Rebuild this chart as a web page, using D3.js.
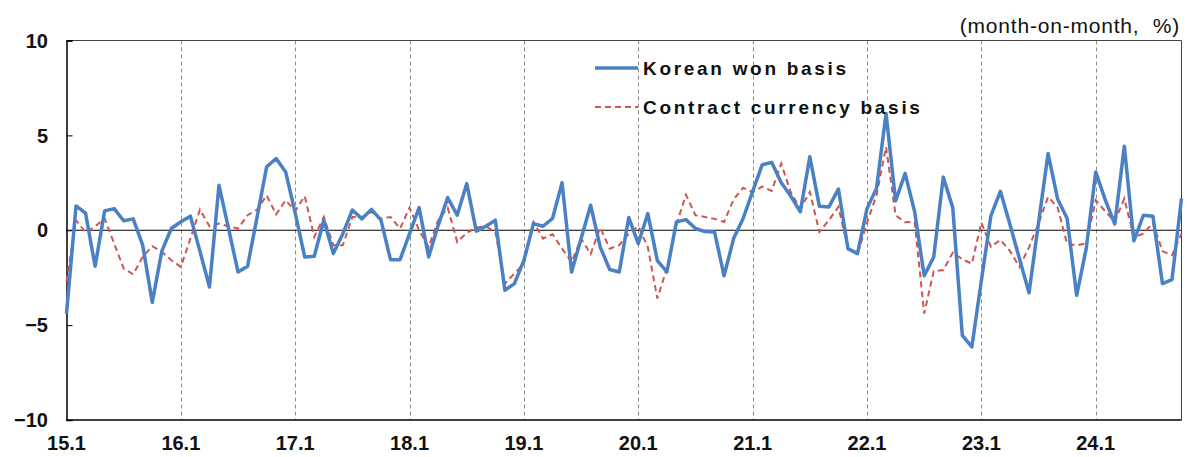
<!DOCTYPE html>
<head>
    <meta charset="utf-8">
    <script src="https://d3js.org/d3.v7.min.js"></script>
    <style>
        body { margin:0; background:#fff; }
        svg text { font-family: "Liberation Sans", Arial, sans-serif; }
    </style>
</head>
<body>
    <svg id="chart" width="1187" height="457"></svg>

    <script>
        // x tick labels (every January)
        var tickLabels = ["15.1","16.1","17.1","18.1","19.1","20.1","21.1","22.1","23.1","24.1"];
        var yTicks = [-10, -5, 0, 5, 10];

        // monthly change, 2015.1 - 2024.10
        var wonBasis = [
            -4.4, 1.28, 0.9, -1.9, 1.02, 1.14, 0.5, 0.6, -0.8, -3.8, -1.1, 0.09,
            0.45, 0.74, -1.1, -2.99, 2.37, 0.1, -2.2, -1.9, 0.7, 3.34, 3.78, 3.07,
            0.9, -1.41, -1.37, 0.53, -1.23, -0.18, 1.07, 0.6, 1.1, 0.53, -1.55, -1.55,
            -0.18, 1.19, -1.41, 0.26, 1.72, 0.79, 2.46, -0.05, 0.21, 0.53, -3.16, -2.81,
            -1.58, 0.35, 0.21, 0.62, 2.5, -2.2, -0.44, 1.32, -0.88, -2.07, -2.2, 0.67,
            -0.7, 0.88, -1.6, -2.2, 0.44, 0.56, 0.09, -0.07, -0.09, -2.4, -0.44, 0.62,
            2.05, 3.45, 3.58, 2.5, 1.8, 0.97, 3.87, 1.27, 1.23, 2.17, -0.97, -1.23,
            1.14, 2.22, 6.15, 1.55, 3.0, 0.97, -2.4, -1.41, 2.8, 1.18, -5.54, -6.15,
            -2.65, 0.77, 2.05, 0.3, -1.5, -3.3, 0.4, 4.04, 1.65, 0.62, -3.43, -0.97,
            3.07, 1.6, 0.33, 4.43, -0.56, 0.79, 0.74, -2.81, -2.6, 1.67
        ];
        var contractBasis = [
            -2.7, 0.53, -0.12, 0.2, 0.62, -0.7, -2.02, -2.32, -1.4, -0.84, -1.14, -1.58,
            -1.93, -0.44, 1.09, 0.21, 0.35, 0.21, 0.09, 0.79, 1.09, 1.84, 0.84, 1.58,
            1.02, 1.8, -0.35, 0.7, -0.79, -0.79, 0.7, 0.7, 0.97, 0.62, 0.7, 0.09,
            1.19, 0.0, -0.88, 0.53, 1.19, -0.62, -0.14, 0.14, 0.21, -0.09, -2.81, -2.28,
            -1.76, 0.44, -0.44, -0.21, -0.97, -1.67, -0.44, -1.25, 0.14, -0.97, -0.79, -0.18,
            0.21, -0.88, -3.6, -2.0, 0.3, 1.87, 0.79, 0.7, 0.6, 0.44, 1.62, 2.24,
            2.0, 2.3, 2.08, 3.51, 2.0, 1.14, 2.02, -0.09, 0.53, 1.23, -0.97, -1.27,
            0.4, 1.85, 4.39, 0.79, 0.42, 0.44, -4.39, -2.15, -2.1, -1.18, -1.53, -1.76,
            0.4, -0.88, -0.5, -1.1, -1.93, -0.9, 0.37, 1.76, 1.2, -0.72, -0.79, -0.7,
            1.58, 1.0, 0.45, 1.67, -0.37, -0.18, 0.4, -1.1, -1.32, -0.18
        ];

        var margin = {left: 66.5, right: 5.5, top: 40.5, bottom: 37};
        var width = 1187, height = 457;
        var svg = d3.select("#chart");

        var x = d3.scaleLinear().domain([0, wonBasis.length - 1]).range([margin.left, width - margin.right]);
        var y = d3.scaleLinear().domain([-10, 10]).range([height - margin.bottom, margin.top]);

        // dashed year lines
        svg.selectAll(".grid")
            .data(tickLabels.slice(1))
            .enter().append("line")
            .attr("x1", function(d, i) { return Math.round(x((i + 1) * 12)) + 0.5; })
            .attr("x2", function(d, i) { return Math.round(x((i + 1) * 12)) + 0.5; })
            .attr("y1", y(10))
            .attr("y2", y(-10))
            .attr("stroke", "#8c8c8c")
            .attr("stroke-width", 1)
            .attr("stroke-dasharray", "4,3");

        // plot frame
        svg.append("line").attr("x1", x(0)).attr("x2", x(117)).attr("y1", y(10)).attr("y2", y(10)).attr("stroke", "#444");
        svg.append("line").attr("x1", x(117)).attr("x2", x(117)).attr("y1", y(10)).attr("y2", y(-10)).attr("stroke", "#444");

        // zero line
        svg.append("line").attr("x1", x(0)).attr("x2", x(117)).attr("y1", y(0)).attr("y2", y(0)).attr("stroke", "#000");

        // y axis, ticks pointing inward
        var yAxis = d3.axisRight(y).tickValues(yTicks).tickSize(6).tickFormat("");
        var ga = svg.append("g").attr("transform", "translate(" + x(0) + ",0)").call(yAxis);
        ga.select(".domain").attr("stroke", "#000").attr("stroke-width", 1.5);

        svg.selectAll(".ylab")
            .data(yTicks)
            .enter().append("text")
            .attr("x", 48)
            .attr("y", function(d) { return y(d); })
            .attr("dy", "0.36em")
            .attr("text-anchor", "end")
            .style("font-size", "20px")
            .style("font-weight", "bold")
            .attr("fill", "#111")
            .text(function(d) { return d < 0 ? "\u2212" + Math.abs(d) : d; });

        // x axis
        svg.append("line").attr("x1", x(0)).attr("x2", x(117)).attr("y1", y(-10)).attr("y2", y(-10))
            .attr("stroke", "#000").attr("stroke-width", 1.5);
        svg.selectAll(".xlab")
            .data(tickLabels)
            .enter().append("text")
            .attr("x", function(d, i) { return x(i * 12); })
            .attr("y", 450)
            .attr("text-anchor", "middle")
            .style("font-size", "20px")
            .style("font-weight", "bold")
            .attr("fill", "#111")
            .text(function(d) { return d; });

        // lines
        var line = d3.line().x(function(d, i) { return x(i); }).y(function(d) { return y(d); });
        svg.append("path").datum(contractBasis).attr("d", line)
            .attr("fill", "none").attr("stroke", "#cf5551").attr("stroke-width", 2)
            .attr("stroke-dasharray", "6,4");
        svg.append("path").datum(wonBasis).attr("d", line)
            .attr("fill", "none").attr("stroke", "#4a80c4").attr("stroke-width", 3.5)
            .attr("stroke-linejoin", "round");

        // legend
        var legend = [
            {name: "Korean won basis", color: "#4a80c4", w: 3.5, dash: null, y: 68},
            {name: "Contract currency basis", color: "#cf5551", w: 2, dash: "6,4", y: 107}
        ];
        legend.forEach(function(l) {
            svg.append("line").attr("x1", 595).attr("x2", 638).attr("y1", l.y).attr("y2", l.y)
                .attr("stroke", l.color).attr("stroke-width", l.w).attr("stroke-dasharray", l.dash);
            svg.append("text").attr("x", 643).attr("y", l.y).attr("dy", "0.36em")
                .style("font-size", "19px").style("font-weight", "bold").style("letter-spacing", "2.7px")
                .attr("fill", "#111").text(l.name);
        });

        // unit
        svg.append("text").attr("x", 1180).attr("y", 25).attr("dy", "0.36em")
            .attr("text-anchor", "end").style("font-size", "21px").style("letter-spacing", "0.8px")
            .style("white-space", "pre").attr("fill", "#111")
            .text("(month-on-month,  %)");
    </script>
</body>
